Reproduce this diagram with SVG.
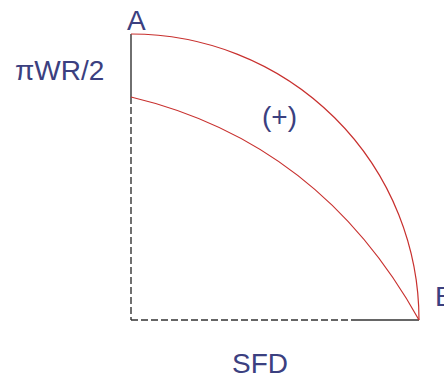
<svg xmlns="http://www.w3.org/2000/svg" width="444" height="377" viewBox="0 0 444 377">
<style>
.lbl{font-family:"Liberation Sans",Arial,sans-serif;font-size:28px;fill:#3b4080}
.ax{stroke:#333;stroke-width:1.4;fill:none}
.dash{stroke-dasharray:7 3}
.crv{stroke:#c8302e;stroke-width:1.2;fill:none}
</style>
<rect width="444" height="377" fill="#fff"/>
<g id="connectors">
<line class="ax" x1="131" y1="34" x2="131" y2="97"/>
<line class="ax dash" x1="131" y1="97" x2="131" y2="320"/>
<line class="ax dash" x1="131" y1="320" x2="355" y2="320"/>
<line class="ax" x1="355" y1="320" x2="419" y2="320"/>
<path class="crv" d="M131,34 A288,286 0 0 1 419,320"/>
<path class="crv" d="M131,97 Q320,142 419,320"/>
</g>
<g id="A"><text class="lbl" x="127" y="30">A</text></g>
<g id="B"><text class="lbl" x="435" y="306">B</text></g>
<g id="piWR2"><text class="lbl" x="15" y="80">πWR/2</text></g>
<g id="plus"><text class="lbl" x="262" y="126">(+)</text></g>
<g id="SFD"><text class="lbl" x="232" y="373">SFD</text></g>
</svg>
